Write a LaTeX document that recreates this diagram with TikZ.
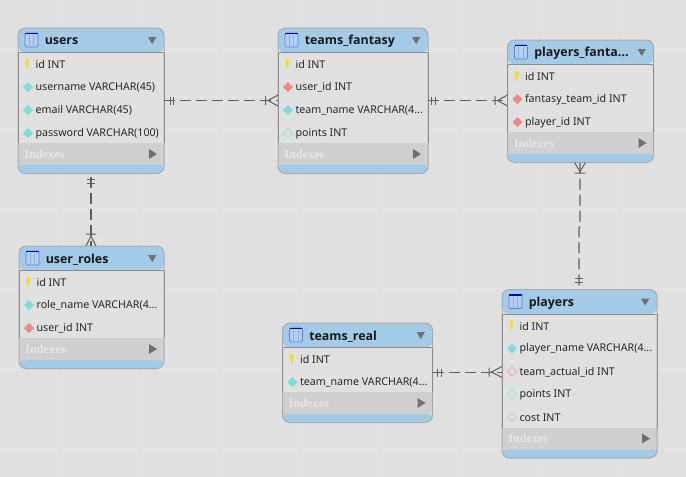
\documentclass[tikz,border=0pt]{standalone}
\usepackage{fontspec}
\setmainfont{Noto Sans}
\newfontfamily\idxfont{Liberation Serif}
\newfontfamily\ttlfont{Open Sans}
\usetikzlibrary{calc}
\definecolor{bgc}{HTML}{E0E0E0}
\definecolor{gridc}{HTML}{E4E4E4}
\definecolor{gridm}{HTML}{E1E1E1}
\definecolor{headc}{HTML}{A3CBE8}
\definecolor{bandc}{HTML}{CFCFCF}
\definecolor{edgec}{HTML}{ABABAB}
\definecolor{sidec}{HTML}{8C8C8C}
\definecolor{linec}{HTML}{606060}
\definecolor{keyc}{HTML}{F7DC2A}
\definecolor{cyanc}{HTML}{7FDCDC}
\definecolor{redc}{HTML}{F08A80}
\definecolor{hollowc}{HTML}{B5DADA}
\definecolor{hollowr}{HTML}{E8B8B4}
\definecolor{triac}{HTML}{707070}
\definecolor{idxc}{HTML}{E6E6E6}
\definecolor{iconb}{HTML}{B4CEEE}
\definecolor{iconl}{HTML}{8FB0DC}
\newcommand{\dd}{...}
\tikzset{
  x=0.75pt,y=-0.75pt,
  tablebody/.style={inner sep=0pt,outer sep=0pt,anchor=north west},
  coltext/.style={anchor=west,inner sep=0pt,font=\fontsize{8.0}{10}\selectfont,text=black!85},
  titletext/.style={anchor=west,inner sep=0pt,font=\ttlfont\fontsize{9.3}{12}\selectfont\bfseries,text=black!90},
  idxtext/.style={anchor=west,inner sep=0pt,font=\idxfont\fontsize{9.2}{11}\selectfont\bfseries,text=idxc},
  rel/.style={draw=linec,line width=1pt,dash pattern=on 8.4pt off 3.6pt},
  tick/.style={draw=linec,line width=0.75pt},
}
% name, x, y, w, rows, title, row list
\newcommand{\tablebox}[7]{%
  \pgfmathsetmacro{\hh}{53.5+23*#5}
  \pgfmathsetmacro{\rr}{23+23*#5}
  \node[tablebody,minimum width=#4*0.75pt,minimum height=\hh*0.75pt] (#1) at (#2,#3) {};
  \begin{scope}[shift={(#2,#3)}]
    \fill[bgc,rounded corners=5.5pt] (0,0) rectangle (#4,\hh);
    \fill[headc,rounded corners=5.5pt] (0,24.5) -- (0,0) -- (#4,0) -- (#4,24.5) -- cycle;
    \fill[headc,rounded corners=5.5pt] (0,\rr+20) -- (0,\hh) -- (#4,\hh) -- (#4,\rr+20) -- cycle;
    \fill[bandc] (0,\rr) rectangle (#4,\rr+22);
    \draw[sidec,line width=0.6pt] (0,24.5) -- (#4,24.5);
    \draw[edgec,line width=0.75pt,rounded corners=5.5pt] (0,0) rectangle (#4,\hh);
    \draw[sidec,line width=0.75pt] (0,24.5) -- (0,\rr) (#4,24.5) -- (#4,\rr);
    % table icon
    \fill[iconb,draw=iconl!70!blue,line width=0.6pt,rounded corners=1pt] (7,5) rectangle (20,19);
    \draw[blue!75!black,line width=1pt] (7.3,5.5) -- (19.7,5.5);
    \draw[iconl,line width=0.5pt] (11.3,7) -- (11.3,18.5) (15.6,7) -- (15.6,18.5);
    \fill[triac] (#4-16,9) -- (#4-7.5,9) -- (#4-11.75,16) -- cycle;
    \node[titletext] (#1title) at (26.5,13.5) {#6};
    \node[idxtext] (#1idx) at (6,\rr+11) {Indexes};
    \fill[triac] (#4-15,\rr+6) -- (#4-7,\rr+11) -- (#4-15,\rr+16) -- cycle;
    \foreach \lab/\ic [count=\i] in {#7} {
      \pgfmathsetmacro{\ry}{13+23*\i}
      \node[coltext] (#1row\i) at (17.3,\ry+0.7) {\lab};
      \csname icon\ic\endcsname{\ry}
    }
  \end{scope}
}
\newcommand{\iconkey}[1]{%
  \fill[keyc] (9.3,#1-5) .. controls (12,#1-5) and (12,#1-1) .. (10.5,#1) -- (10,#1+4.5) -- (8.6,#1+4.5) -- (8.1,#1) .. controls (6.6,#1-1) and (6.6,#1-5) .. (9.3,#1-5) -- cycle;}
\newcommand{\diam}[2]{\fill[#2] (10,#1-5) -- (15,#1) -- (10,#1+5) -- (5,#1) -- cycle;}
\newcommand{\iconcy}[1]{\diam{#1}{cyanc}}
\newcommand{\iconred}[1]{\diam{#1}{redc}}
\newcommand{\iconhol}[1]{\draw[hollowc,line width=0.8pt] (10,#1-4.3) -- (14.3,#1) -- (10,#1+4.3) -- (5.7,#1) -- cycle;}
\newcommand{\iconhor}[1]{\draw[hollowr,line width=0.8pt] (10,#1-4.3) -- (14.3,#1) -- (10,#1+4.3) -- (5.7,#1) -- cycle;}
\begin{document}
\begin{tikzpicture}
\useasboundingbox (0,0) rectangle (686,476);
\fill[bgc] (-3,-3) rectangle (689,479);
\foreach \gx in {0,10,...,680} \draw[gridm,line width=0.5pt] (\gx+3,-3) -- (\gx+3,479);
\foreach \gy in {0,10,...,470} \draw[gridm,line width=0.5pt] (-3,\gy+9) -- (689,\gy+9);
\foreach \gx in {0,80,...,640} \draw[gridc,line width=0.75pt] (\gx+63,-3) -- (\gx+63,479);
\foreach \gy in {0,80,...,400} \draw[gridc,line width=0.75pt] (-3,\gy+49) -- (689,\gy+49);

\tablebox{users}{18}{28}{146}{4}{users}{id INT/key,username VARCHAR(45)/cy,email VARCHAR(45)/cy,password VARCHAR(100)/cy}
\tablebox{tf}{278}{28}{150}{4}{teams\_fantasy}{id INT/key,user\_id INT/red,team\_name VARCHAR(4\dd/cy,points INT/hol}
\tablebox{pf}{507.5}{40}{146}{3}{players\_fanta\dd}{id INT/key,fantasy\_team\_id INT/red,player\_id INT/red}
\tablebox{ur}{19}{246}{145}{3}{user\_roles}{id INT/key,role\_name VARCHAR(4\dd/cy,user\_id INT/red}
\tablebox{tr}{282.5}{323}{150}{2}{teams\_real}{id INT/key,team\_name VARCHAR(4\dd/cy}
\tablebox{pl}{502}{289.5}{155}{5}{players}{id INT/key,player\_name VARCHAR(4\dd/cy,team\_actual\_id INT/hor,points INT/hol,cost INT/hol}

% users -- teams_fantasy
\draw[rel] ($(users.north east)+(0,72.5)$) -- ($(tf.north west)+(0,72.5)$);
\draw[tick] ($(users.north east)+(6,68.5)$) -- +(0,8) ($(users.north east)+(9.5,68.5)$) -- +(0,8);
\draw[tick] ($(tf.north west)+(-12.5,68)$) -- +(0,9) ($(tf.north west)+(0,67)$) -- ($(tf.north west)+(-10,72.5)$) -- ($(tf.north west)+(0,78)$);
% teams_fantasy -- players_fantasy
\draw[rel] ($(tf.north east)+(0,72.5)$) -- ($(pf.north west)+(0,60.5)$);
\draw[tick] ($(tf.north east)+(3.5,68.5)$) -- +(0,8) ($(tf.north east)+(7,68.5)$) -- +(0,8);
\draw[tick] ($(pf.north west)+(-12.5,56)$) -- +(0,9) ($(pf.north west)+(0,55)$) -- ($(pf.north west)+(-10,60.5)$) -- ($(pf.north west)+(0,66)$);
% players_fantasy -- players
\coordinate (jogA) at ($(pf.south west)+(72.5,64)$);
\coordinate (jogB) at ($(pl.north west)+(77,-61)$);
\draw[rel] ($(pf.south west)+(72.5,0)$) -- (jogA) -- (jogB) -- ($(pl.north west)+(77,0)$);
\draw[tick] ($(pf.south west)+(67,10.5)$) -- +(11,0) ($(pf.south west)+(67,0)$) -- ($(pf.south west)+(72.5,9)$) -- ($(pf.south west)+(78,0)$);
\draw[tick] ($(pl.north west)+(72.5,-11.5)$) -- +(8,0) ($(pl.north west)+(72.5,-7.5)$) -- +(8,0);
% users -- user_roles
\draw[rel] ($(users.south west)+(73,3)$) -- ($(ur.north west)+(72,0)$);
\draw[tick] ($(users.south west)+(69,6)$) -- +(8,0) ($(users.south west)+(69,10)$) -- +(8,0);
\draw[tick] ($(ur.north west)+(67,-12)$) -- +(10,0) ($(ur.north west)+(67,0)$) -- ($(ur.north west)+(72,-10)$) -- ($(ur.north west)+(77,0)$);
% teams_real -- players
\draw[rel] ($(tr.north east)+(0,49.5)$) -- ($(pl.north west)+(0,83)$);
\draw[tick] ($(tr.north east)+(4.5,45.5)$) -- +(0,8) ($(tr.north east)+(8.5,45.5)$) -- +(0,8);
\draw[tick] ($(pl.north west)+(-13,78)$) -- +(0,9) ($(pl.north west)+(0,77)$) -- ($(pl.north west)+(-10.5,82.5)$) -- ($(pl.north west)+(0,88)$);
\end{tikzpicture}
\end{document}
